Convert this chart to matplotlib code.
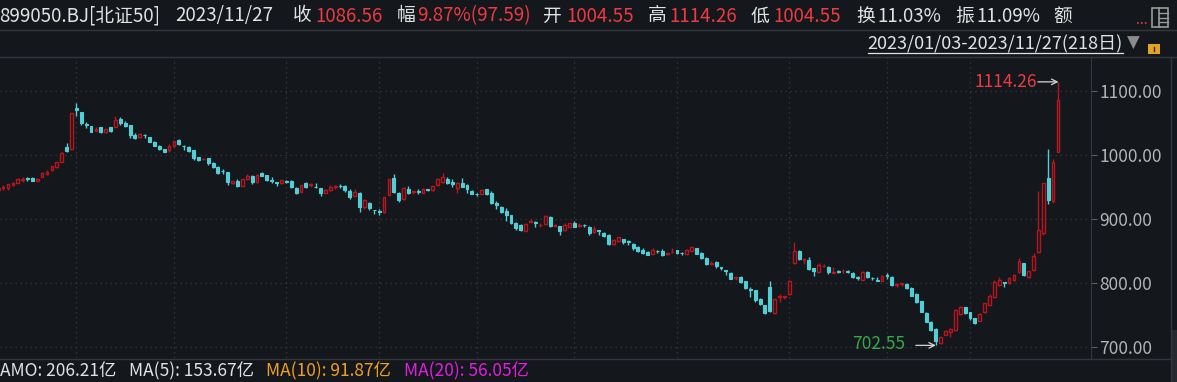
import matplotlib

matplotlib.use("Agg")
import matplotlib.pyplot as plt
from matplotlib.patches import Rectangle, Arc

plt.rcParams["font.family"] = ["Noto Sans CJK SC", "DejaVu Sans"]

# ---- data: 北证50 daily candles, 2023/01/03 - 2023/11/27 (218 days) ----
opens = [
    946, 948, 949, 953, 957, 961, 963.6, 963.6, 960, 965.6, 971, 976.6, 981.3, 989.6, 1013, 1009.4,
    1072.9, 1066.7, 1048, 1045.3, 1037.5, 1043.8, 1035.9, 1043.2, 1044.3, 1055.7, 1050.5, 1046.9,
    1031.3, 1028.1, 1031, 1027.6, 1020.8, 1014.6, 1008.9, 1008.3, 1013.5, 1024, 1014.6, 1013,
    1007.3, 996.4, 993, 995.3, 987, 981.8, 975.5, 973.4, 955.7, 959.4, 952.1, 962.5, 967.2, 957.3,
    972.4, 968.8, 961, 957.8, 955.7, 959.4, 959.9, 948.5, 942.7, 956.8, 953, 950.5, 948.5, 940.6,
    945.3, 950.5, 952, 952.1, 944.3, 936.5, 940.6, 918.8, 924.5, 914, 912.5, 910.9, 938, 963.6,
    941.2, 930.7, 947.4, 942, 943.5, 941.2, 946.9, 944.8, 953.1, 957.8, 963, 957.8, 948.5, 956.8,
    953.6, 944.3, 939.6, 939.6, 946.4, 941.2, 924.5, 919.3, 913, 905.7, 893.2, 890, 881.3, 896,
    896, 890, 892.2, 902.6, 889.5, 888.5, 882.7, 888, 893.7, 889.7, 891, 888, 879.6, 882.2, 878,
    875.4, 861.3, 864.9, 868.6, 865, 860.7, 856.6, 851.8, 849.2, 846, 850, 850.3, 845, 847.7,
    851.8, 847.5, 846, 850.3, 853.9, 847.6, 838.7, 830.4, 832.5, 825.1, 820.5, 815.7, 807.8,
    809.9, 803.1, 790, 788.5, 775.4, 765.5, 793, 753.4, 778, 778.5, 782.2, 830.9, 850.3, 836,
    835.6, 823, 817.7, 826, 825.5, 815.1, 818, 818, 819.3, 815.1, 810, 805.2, 816.7, 808.5, 804.5,
    803.6, 812, 809.9, 797.5, 798, 798.5, 792.7, 782.3, 771.4, 753.7, 739.1, 728.7, 706.3, 719.3,
    722.9, 726.6, 751.6, 762, 754.2, 745.3, 741.2, 754.2, 766.2, 777.6, 797.4, 801.5, 799.5,
    804.7, 816.7, 830.7, 808.9, 820.3, 848.9, 877.6, 964.5, 928.6, 1004.55,
]
highs = [
    950, 953, 955, 958, 964, 965, 966, 965, 963.5, 974, 976, 983, 989, 1004, 1018.2, 1066,
    1080.7, 1067, 1052.1, 1046, 1044.3, 1044.5, 1041, 1044, 1061.5, 1058.9, 1053.6, 1047.5,
    1034.9, 1035, 1033.3, 1028, 1021.5, 1015.5, 1010, 1016.7, 1022.5, 1025.5, 1015.6, 1014,
    1008, 997.5, 994.8, 996, 988.5, 983, 978.1, 974, 960, 962.5, 963, 971, 968, 971,
    973.5, 969.5, 966.2, 958, 961.5, 960.9, 961, 949.5, 953.5, 957.8, 955.7, 955.7, 949, 946.5,
    952.6, 953.1, 954.2, 953.5, 946.5, 946.4, 941.5, 932, 926.5, 914.5, 915.6, 935, 963, 970.3,
    942, 949.5, 951.6, 944.5, 946.4, 948, 947.5, 951.6, 963.5, 971.4, 965, 963, 957.5, 963.6,
    954.5, 945, 941.2, 946.5, 947.4, 943.2, 927.6, 920, 917.2, 906.3, 895.8, 891.5, 893.5, 899.5,
    896.9, 893.7, 906.8, 904, 892.2, 889.5, 893.2, 894, 896.3, 893.2, 892.2, 889, 889.5, 882.7, 879,
    876, 868, 871.8, 869, 867, 862.3, 857.5, 854.5, 850, 854.5, 851.8, 853.4, 847.5, 854.5,
    852, 849.2, 852.5, 857, 854.5, 848, 840.8, 834.6, 834, 825.5, 821, 816.5, 809.8,
    811.5, 803.5, 794.3, 789, 776, 766, 803, 775, 782.2, 780, 804, 864.4, 852, 839.8,
    840, 823.5, 830.7, 829.7, 826, 824.5, 820.4, 821.9, 820.9, 817.2, 811.5, 818.5, 818.2, 809.9, 808.9,
    812, 815.1, 811, 799.5, 800, 799.5, 793.5, 784.4, 772, 754.5, 740, 729.5, 716, 727,
    729, 759, 764, 763, 755, 746, 752.5, 769, 782.8, 804.7, 808.9, 802.1, 810,
    814, 839, 832, 819, 846.9, 943.75, 956, 1009.4, 993.75, 1114.26,
]
lows = [
    944, 946, 945, 952, 956, 958, 960, 959, 959.5, 965, 968.8, 975, 980, 989, 1005.2, 1008,
    1061.5, 1046.9, 1042.7, 1035.5, 1037, 1034, 1034.5, 1036, 1043.5, 1046.9, 1044.5, 1027.1,
    1025.5, 1026, 1027.1, 1020, 1013.5, 1007.3, 1004, 1005.2, 1013, 1015.6, 1007.3, 1004.7,
    992.7, 990.5, 991.7, 985, 979.2, 969.8, 970.8, 953.1, 955, 950.5, 951, 961.5, 955.2, 956.5,
    966.5, 959, 956.8, 952.1, 954, 956.8, 948.5, 939.1, 942, 948.5, 950.5, 949, 936.5, 940,
    944.5, 947.4, 948.5, 942.7, 931.8, 936, 911.5, 915.1, 913.5, 908.3, 906.3, 910, 937, 940,
    927.1, 929.5, 939.1, 938.5, 938.5, 940, 943.2, 944, 952, 957, 954, 950.5, 941.2, 949.5,
    941.2, 938.5, 936.5, 939, 937.5, 923.5, 915.1, 908.9, 897.4, 891.5, 882.8, 881.5, 880.5, 895.5,
    888, 886.9, 891, 888, 887, 875.4, 882, 887, 887, 887, 888, 875.4, 878.5, 875.4, 872.5,
    858.6, 860, 864, 861.3, 858.6, 851.8, 849, 845, 843, 845, 847, 842.5, 843, 847.5,
    846, 844, 845, 849.5, 845, 838, 827.8, 828.3, 824.1, 821, 813.1, 805.5, 804.7,
    800, 790, 778, 771, 765.5, 752, 755, 752, 770.7, 774.4, 781, 830, 836, 829.3,
    821, 811.5, 816.5, 824.5, 814.1, 815, 815.1, 815.1, 815.6, 808, 804.7, 804.5, 807.3, 804.7, 803,
    803, 806.3, 796, 794.3, 796, 791, 779, 768.5, 754, 738.5, 725.5, 702.55, 704.5, 718,
    716.2, 725, 750, 752, 742.2, 736, 740, 753, 765, 776.5, 796, 794.3, 798.5,
    803.5, 815, 811, 808, 819, 847.5, 875.5, 923.4, 925.5, 1004.55,
]
closes = [
    948, 950, 954, 957, 962.5, 962, 962.5, 960, 963, 972.4, 973, 982.8, 988.5, 1003.1, 1006.3, 1065.1,
    1070, 1050, 1046.5, 1036.5, 1040.1, 1035.4, 1040.6, 1037.5, 1054.7, 1049.5, 1045.3, 1031.3,
    1027.1, 1032.8, 1030.5, 1020.8, 1014.6, 1009.4, 1004.7, 1014.6, 1021.9, 1017.7, 1013.5, 1006.3,
    994.8, 991.7, 994, 987, 981.8, 971.9, 974.5, 957.3, 959.4, 951.6, 962.5, 967.7, 957.3, 968.8,
    967.7, 960.4, 959.5, 957, 960.9, 958.3, 949.5, 941.2, 953.1, 950.5, 954, 949.5, 941.2, 945.8,
    949.5, 951.6, 951, 944.8, 934.4, 942.7, 918.8, 930.2, 916.7, 913.5, 911.6, 934.4, 962.5, 942.2,
    929.7, 948.5, 941.2, 943.8, 942.5, 947.4, 944.8, 951, 963, 966.2, 955.7, 954.7, 956.8, 950.5,
    946.4, 939.6, 939, 945.8, 938.5, 924.5, 922.4, 911.5, 906.3, 893.2, 885.4, 882.8, 892.7, 896.5,
    893.5, 891, 904.2, 889.5, 890.5, 881.7, 890.6, 893.2, 888, 890.6, 890.5, 877.5, 884.3, 881, 873.3,
    860.7, 867.5, 871.2, 863.4, 863.4, 853.9, 850.3, 846.6, 844, 851.3, 849.5, 843.5, 847.1, 849.2,
    846.6, 846.6, 851.8, 856.6, 846, 838.7, 830.4, 831.5, 826.2, 823.5, 819, 806.8, 809.4,
    801, 791.6, 788.5, 772.8, 766.5, 753.4, 757, 774.4, 779.5, 779.5, 803.2, 850.3, 837.2, 837.5,
    822.5, 818.5, 828.1, 827, 816.7, 817.7, 817.5, 819.5, 816.7, 808.9, 808.5, 817.7, 808.9, 807.5, 803.6,
    811.5, 811, 797.4, 798.5, 799.5, 791.7, 780.2, 769.8, 755.2, 739.6, 726.6, 709.9, 715.1, 725.6,
    728.1, 757.8, 762, 752.6, 745.3, 738, 751.6, 768.3, 780.2, 801.1, 804.7, 800.5, 807.8,
    813, 834.9, 813, 818.2, 842.7, 882.8, 955.7, 929.7, 988.97, 1086.56,
]
# trading days per month, Jan..Nov 2023 (month boundaries -> vertical grid)
month_days = [16, 20, 23, 19, 20, 20, 21, 23, 20, 17, 19]
price_ticks = [700, 800, 900, 1000, 1100]

header_items = [
    ("899050.BJ[北证50]", -1, "w"), ("2023/11/27", 175, "w"),
    ("收", 293, "w"), ("1086.56", 315, "r"),
    ("幅", 397, "w"), ("9.87%(97.59)", 417, "r"),
    ("开", 543, "w"), ("1004.55", 566, "r"),
    ("高", 648, "w"), ("1114.26", 669, "r"),
    ("低", 751, "w"), ("1004.55", 773, "r"),
    ("换", 856, "w"), ("11.03%", 877, "w"),
    ("振", 955, "w"), ("11.09%", 976, "w"),
    ("额", 1053, "w"),
]
footer_items = [
    ("AMO: 206.21亿", 0, "w"), ("MA(5): 153.67亿", 129, "w"),
    ("MA(10): 91.87亿", 266, "o"), ("MA(20): 56.05亿", 404, "m"),
]
date_range = "2023/01/03-2023/11/27(218日)"

BG = "#14171c"
UP = "#b8161c"
DOWN = "#52cfd6"
GRID = "#393d45"
LINE = "#33363d"
colors = {"w": "#e2e2e2", "r": "#ec3b41", "o": "#f0a020", "m": "#e020e0"}

W, H = 1177, 382
fig = plt.figure(figsize=(W / 100, H / 100), dpi=100, facecolor=BG)
ax = fig.add_axes([0, 24 / H, 1091 / W, 301 / H], facecolor=BG)

n = len(closes)
xs = list(range(n))
for i in xs:
    o, h, l, c = opens[i], highs[i], lows[i], closes[i]
    top, bot = max(o, c), min(o, c)
    if c >= o:
        ax.vlines(i, top, h, color=UP, lw=1)
        ax.vlines(i, l, bot, color=UP, lw=1)
        ax.bar(i, max(top - bot, 0.4), bottom=bot, width=0.55,
               facecolor=BG, edgecolor=UP, linewidth=1, zorder=3)
    else:
        ax.vlines(i, l, h, color=DOWN, lw=1)
        ax.bar(i, max(top - bot, 0.4), bottom=bot, width=0.6,
               facecolor=DOWN, edgecolor=DOWN, linewidth=0.8, zorder=3)

month_starts = []
acc = 0
for d in month_days[:-1]:
    acc += d
    month_starts.append(acc)

ax.set_xlim(0.37, 223.77)
ax.set_ylim(682.8, 1153.1)
ax.set_xticks(month_starts)
ax.set_yticks(price_ticks)
ax.set_yticklabels([f"{p:.2f}" for p in price_ticks])
ax.yaxis.tick_right()
ax.tick_params(axis="x", length=0, labelbottom=False)
ax.tick_params(axis="y", length=4, width=0.8, color="#5a5e66",
               labelcolor="#b4b4b4", labelsize=12.5, pad=2)
for lab in ax.get_yticklabels():
    lab.set_family(["Noto Sans CJK SC", "DejaVu Sans"])
ax.grid(True, color=GRID, linestyle=(0, (1, 3)), linewidth=0.9)
ax.set_axisbelow(True)
for s in ["left", "top", "bottom"]:
    ax.spines[s].set_visible(False)
ax.spines["right"].set_color(LINE)

# high / low markers
i_hi = highs.index(max(highs))
i_lo = lows.index(min(lows))
arrow = dict(arrowstyle="->", color="#d6d6d6", lw=0.9, shrinkA=0, shrinkB=0)
ax.annotate("", xy=(i_hi + 0.1, highs[i_hi]), xytext=(i_hi - 4.1, highs[i_hi]), arrowprops=arrow)
ax.text(i_hi - 4.3, highs[i_hi], f"{highs[i_hi]:.2f}", ha="right", va="center",
        color=colors["r"], fontsize=12.5)
ax.annotate("", xy=(i_lo, lows[i_lo]), xytext=(i_lo - 4.1, lows[i_lo]), arrowprops=arrow)
ax.text(i_lo - 6.3, lows[i_lo] + 1.5, f"{lows[i_lo]:.2f}", ha="right", va="center",
        color="#36a84a", fontsize=12.5)

# overlay in pixel coordinates for header / footer chrome
ov = fig.add_axes([0, 0, 1, 1], facecolor="none")
ov.set_xlim(0, W)
ov.set_ylim(H, 0)
ov.axis("off")

for y in (30, 57):
    ov.plot([0, W], [y, y], color=LINE, lw=1)
ov.plot([0, 1171], [359, 359], color=LINE, lw=1)
ov.plot([1171, 1171], [57, H], color=LINE, lw=1)
ov.add_patch(Rectangle((1172, 330), 5, 52, color="#26292f", lw=0))

for text, x, c in header_items:
    ov.text(x, 16, text, color=colors[c], fontsize=13.5, ha="left", va="center")
ov.text(1136, 20, "...", color=colors["r"], fontsize=10, ha="left", va="center")
# layout icon
ov.add_patch(Rectangle((1152, 8), 16, 19, fill=False, ec="#9a9a9a", lw=1.2))
ov.plot([1159, 1159], [8, 27], color="#9a9a9a", lw=1.2)
for yy in (13, 18, 22):
    ov.plot([1159, 1168], [yy, yy], color="#9a9a9a", lw=1)

ov.text(1123, 44, date_range, color=colors["w"], fontsize=13, ha="right", va="center")
ov.plot([868, 1123], [53, 53], color=colors["w"], lw=0.9)
ov.text(1133, 43, "▼", color="#8c8c8c", fontsize=12, ha="center", va="center",
        family="DejaVu Sans")
# lock icon
ov.add_patch(Rectangle((1148, 44), 12, 10, color="#e3a521", lw=0))
ov.add_patch(Arc((1154, 44), 8, 12, theta1=0, theta2=180, color="#e3a521", lw=1.6))
ov.plot([1154, 1154], [47, 51], color="#3a2a00", lw=1)

for text, x, c in footer_items:
    ov.text(x, 371, text, color=colors[c], fontsize=12.5, ha="left", va="center")

fig.savefig("out.png", dpi=100, facecolor=BG)
